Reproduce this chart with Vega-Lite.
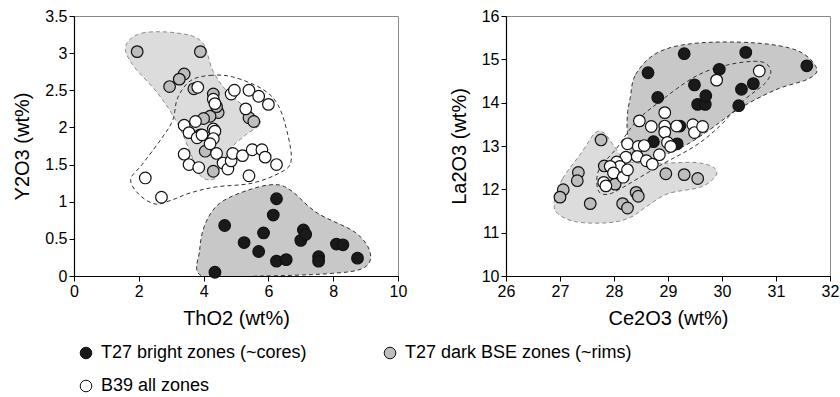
{
"$schema": "https://vega.github.io/schema/vega-lite/v6.json",
"padding": {"left": 12, "top": 7, "right": 5, "bottom": 5},
"config": {
  "font": "Liberation Sans",
  "view": {"stroke": "#8a8a8a", "strokeWidth": 1},
  "axis": {"grid": false, "domainColor": "#000", "tickColor": "#000", "labelColor": "#000", "titleColor": "#000", "labelFontSize": 16, "titleFontSize": 20, "titleFontWeight": "normal", "tickSize": 5, "labelPadding": 2, "labelOverlap": false, "labelFlush": false, "domainWidth": 1.2, "tickWidth": 1},
  "legend": {"labelFontSize": 18, "labelColor": "#000", "labelLimit": 400}
},
"datasets": {
  "pts": [
    {"p":"L","g":"T27 bright zones (~cores)","x":4.35,"y":0.05},{"p":"L","g":"T27 bright zones (~cores)","x":4.65,"y":0.68},{"p":"L","g":"T27 bright zones (~cores)","x":5.25,"y":0.45},{"p":"L","g":"T27 bright zones (~cores)","x":5.7,"y":0.33},{"p":"L","g":"T27 bright zones (~cores)","x":5.85,"y":0.58},{"p":"L","g":"T27 bright zones (~cores)","x":6.15,"y":0.82},{"p":"L","g":"T27 bright zones (~cores)","x":6.25,"y":1.04},{"p":"L","g":"T27 bright zones (~cores)","x":6.25,"y":0.2},{"p":"L","g":"T27 bright zones (~cores)","x":6.55,"y":0.22},{"p":"L","g":"T27 bright zones (~cores)","x":7.0,"y":0.48},{"p":"L","g":"T27 bright zones (~cores)","x":7.08,"y":0.62},{"p":"L","g":"T27 bright zones (~cores)","x":7.15,"y":0.56},{"p":"L","g":"T27 bright zones (~cores)","x":7.55,"y":0.26},{"p":"L","g":"T27 bright zones (~cores)","x":7.55,"y":0.2},{"p":"L","g":"T27 bright zones (~cores)","x":8.1,"y":0.43},{"p":"L","g":"T27 bright zones (~cores)","x":8.3,"y":0.42},{"p":"L","g":"T27 bright zones (~cores)","x":8.75,"y":0.24},
    {"p":"R","g":"T27 bright zones (~cores)","x":28.63,"y":14.69},{"p":"R","g":"T27 bright zones (~cores)","x":29.3,"y":15.13},{"p":"R","g":"T27 bright zones (~cores)","x":30.44,"y":15.16},{"p":"R","g":"T27 bright zones (~cores)","x":31.57,"y":14.85},{"p":"R","g":"T27 bright zones (~cores)","x":29.95,"y":14.77},{"p":"R","g":"T27 bright zones (~cores)","x":28.81,"y":14.12},{"p":"R","g":"T27 bright zones (~cores)","x":29.49,"y":14.41},{"p":"R","g":"T27 bright zones (~cores)","x":30.36,"y":14.31},{"p":"R","g":"T27 bright zones (~cores)","x":30.58,"y":14.44},{"p":"R","g":"T27 bright zones (~cores)","x":29.55,"y":13.96},{"p":"R","g":"T27 bright zones (~cores)","x":29.69,"y":13.96},{"p":"R","g":"T27 bright zones (~cores)","x":29.7,"y":14.16},{"p":"R","g":"T27 bright zones (~cores)","x":30.31,"y":13.93},{"p":"R","g":"T27 bright zones (~cores)","x":28.73,"y":13.1},{"p":"R","g":"T27 bright zones (~cores)","x":29.22,"y":13.46},{"p":"R","g":"T27 bright zones (~cores)","x":29.17,"y":13.05},
    {"p":"L","g":"T27 dark BSE zones (~rims)","x":1.95,"y":3.02},{"p":"L","g":"T27 dark BSE zones (~rims)","x":3.9,"y":3.02},{"p":"L","g":"T27 dark BSE zones (~rims)","x":3.4,"y":2.72},{"p":"L","g":"T27 dark BSE zones (~rims)","x":3.25,"y":2.65},{"p":"L","g":"T27 dark BSE zones (~rims)","x":2.95,"y":2.55},{"p":"L","g":"T27 dark BSE zones (~rims)","x":3.7,"y":2.52},{"p":"L","g":"T27 dark BSE zones (~rims)","x":4.3,"y":2.45},{"p":"L","g":"T27 dark BSE zones (~rims)","x":4.45,"y":2.2},{"p":"L","g":"T27 dark BSE zones (~rims)","x":4.2,"y":2.15},{"p":"L","g":"T27 dark BSE zones (~rims)","x":4.0,"y":2.12},{"p":"L","g":"T27 dark BSE zones (~rims)","x":4.4,"y":2.28},{"p":"L","g":"T27 dark BSE zones (~rims)","x":5.4,"y":2.13},{"p":"L","g":"T27 dark BSE zones (~rims)","x":5.55,"y":2.08},{"p":"L","g":"T27 dark BSE zones (~rims)","x":4.05,"y":1.68},{"p":"L","g":"T27 dark BSE zones (~rims)","x":4.3,"y":1.41},{"p":"L","g":"T27 dark BSE zones (~rims)","x":3.9,"y":1.9},
    {"p":"R","g":"T27 dark BSE zones (~rims)","x":27.76,"y":13.14},{"p":"R","g":"T27 dark BSE zones (~rims)","x":27.82,"y":12.54},{"p":"R","g":"T27 dark BSE zones (~rims)","x":27.34,"y":12.39},{"p":"R","g":"T27 dark BSE zones (~rims)","x":27.32,"y":12.2},{"p":"R","g":"T27 dark BSE zones (~rims)","x":27.06,"y":11.99},{"p":"R","g":"T27 dark BSE zones (~rims)","x":27.0,"y":11.82},{"p":"R","g":"T27 dark BSE zones (~rims)","x":27.56,"y":11.67},{"p":"R","g":"T27 dark BSE zones (~rims)","x":28.16,"y":11.67},{"p":"R","g":"T27 dark BSE zones (~rims)","x":28.25,"y":11.57},{"p":"R","g":"T27 dark BSE zones (~rims)","x":28.41,"y":11.93},{"p":"R","g":"T27 dark BSE zones (~rims)","x":28.45,"y":11.84},{"p":"R","g":"T27 dark BSE zones (~rims)","x":28.96,"y":12.36},{"p":"R","g":"T27 dark BSE zones (~rims)","x":29.3,"y":12.34},{"p":"R","g":"T27 dark BSE zones (~rims)","x":29.55,"y":12.25},{"p":"R","g":"T27 dark BSE zones (~rims)","x":28.02,"y":12.12},{"p":"R","g":"T27 dark BSE zones (~rims)","x":28.2,"y":12.4},
    {"p":"L","g":"B39 all zones","x":2.2,"y":1.32},{"p":"L","g":"B39 all zones","x":2.7,"y":1.06},{"p":"L","g":"B39 all zones","x":3.82,"y":2.54},{"p":"L","g":"B39 all zones","x":3.4,"y":2.03},{"p":"L","g":"B39 all zones","x":3.75,"y":2.08},{"p":"L","g":"B39 all zones","x":3.55,"y":1.93},{"p":"L","g":"B39 all zones","x":3.8,"y":1.86},{"p":"L","g":"B39 all zones","x":3.95,"y":1.9},{"p":"L","g":"B39 all zones","x":4.3,"y":2.38},{"p":"L","g":"B39 all zones","x":4.35,"y":2.32},{"p":"L","g":"B39 all zones","x":4.3,"y":1.98},{"p":"L","g":"B39 all zones","x":4.35,"y":1.95},{"p":"L","g":"B39 all zones","x":4.3,"y":1.85},{"p":"L","g":"B39 all zones","x":4.2,"y":1.78},{"p":"L","g":"B39 all zones","x":3.4,"y":1.64},{"p":"L","g":"B39 all zones","x":3.55,"y":1.5},{"p":"L","g":"B39 all zones","x":3.85,"y":1.46},{"p":"L","g":"B39 all zones","x":4.4,"y":1.65},{"p":"L","g":"B39 all zones","x":4.6,"y":1.52},{"p":"L","g":"B39 all zones","x":4.75,"y":1.44},{"p":"L","g":"B39 all zones","x":4.85,"y":1.55},{"p":"L","g":"B39 all zones","x":4.9,"y":1.65},{"p":"L","g":"B39 all zones","x":4.85,"y":2.45},{"p":"L","g":"B39 all zones","x":4.95,"y":2.5},{"p":"L","g":"B39 all zones","x":5.3,"y":2.25},{"p":"L","g":"B39 all zones","x":5.4,"y":2.5},{"p":"L","g":"B39 all zones","x":5.7,"y":2.42},{"p":"L","g":"B39 all zones","x":6.0,"y":2.31},{"p":"L","g":"B39 all zones","x":5.2,"y":1.62},{"p":"L","g":"B39 all zones","x":5.5,"y":1.7},{"p":"L","g":"B39 all zones","x":5.8,"y":1.7},{"p":"L","g":"B39 all zones","x":5.9,"y":1.6},{"p":"L","g":"B39 all zones","x":6.25,"y":1.5},{"p":"L","g":"B39 all zones","x":5.4,"y":1.35},
    {"p":"R","g":"B39 all zones","x":30.69,"y":14.73},{"p":"R","g":"B39 all zones","x":29.9,"y":14.52},{"p":"R","g":"B39 all zones","x":28.47,"y":13.58},{"p":"R","g":"B39 all zones","x":28.69,"y":13.45},{"p":"R","g":"B39 all zones","x":28.94,"y":13.77},{"p":"R","g":"B39 all zones","x":28.94,"y":13.46},{"p":"R","g":"B39 all zones","x":28.94,"y":13.32},{"p":"R","g":"B39 all zones","x":29.16,"y":13.46},{"p":"R","g":"B39 all zones","x":29.46,"y":13.49},{"p":"R","g":"B39 all zones","x":29.49,"y":13.31},{"p":"R","g":"B39 all zones","x":29.64,"y":13.45},{"p":"R","g":"B39 all zones","x":28.99,"y":13.08},{"p":"R","g":"B39 all zones","x":29.05,"y":12.99},{"p":"R","g":"B39 all zones","x":28.25,"y":13.05},{"p":"R","g":"B39 all zones","x":28.45,"y":12.99},{"p":"R","g":"B39 all zones","x":28.56,"y":13.01},{"p":"R","g":"B39 all zones","x":28.22,"y":12.74},{"p":"R","g":"B39 all zones","x":28.43,"y":12.76},{"p":"R","g":"B39 all zones","x":28.6,"y":12.66},{"p":"R","g":"B39 all zones","x":28.71,"y":12.58},{"p":"R","g":"B39 all zones","x":28.84,"y":12.8},{"p":"R","g":"B39 all zones","x":28.05,"y":12.63},{"p":"R","g":"B39 all zones","x":28.11,"y":12.53},{"p":"R","g":"B39 all zones","x":27.93,"y":12.53},{"p":"R","g":"B39 all zones","x":27.99,"y":12.38},{"p":"R","g":"B39 all zones","x":28.17,"y":12.28},{"p":"R","g":"B39 all zones","x":28.25,"y":12.45},{"p":"R","g":"B39 all zones","x":27.81,"y":12.16},{"p":"R","g":"B39 all zones","x":27.85,"y":12.08}
  ],
  "shapes": [
    {"p":"L","s":"light","i":0,"x":1.6,"y":3.1},{"p":"L","s":"light","i":1,"x":2.1,"y":3.27},{"p":"L","s":"light","i":2,"x":3.2,"y":3.27},{"p":"L","s":"light","i":3,"x":3.95,"y":3.15},{"p":"L","s":"light","i":4,"x":4.3,"y":2.75},{"p":"L","s":"light","i":5,"x":4.8,"y":2.45},{"p":"L","s":"light","i":6,"x":5.5,"y":2.2},{"p":"L","s":"light","i":7,"x":5.75,"y":2.05},{"p":"L","s":"light","i":8,"x":5.3,"y":1.9},{"p":"L","s":"light","i":9,"x":4.8,"y":1.7},{"p":"L","s":"light","i":10,"x":4.5,"y":1.45},{"p":"L","s":"light","i":11,"x":4.3,"y":1.3},{"p":"L","s":"light","i":12,"x":3.9,"y":1.35},{"p":"L","s":"light","i":13,"x":3.6,"y":1.65},{"p":"L","s":"light","i":14,"x":3.2,"y":2.05},{"p":"L","s":"light","i":15,"x":2.6,"y":2.45},{"p":"L","s":"light","i":16,"x":1.8,"y":2.85},
    {"p":"L","s":"dark","i":0,"x":3.95,"y":0.0},{"p":"L","s":"dark","i":1,"x":3.88,"y":0.35},{"p":"L","s":"dark","i":2,"x":4.05,"y":0.7},{"p":"L","s":"dark","i":3,"x":4.5,"y":0.98},{"p":"L","s":"dark","i":4,"x":5.4,"y":1.16},{"p":"L","s":"dark","i":5,"x":6.2,"y":1.23},{"p":"L","s":"dark","i":6,"x":6.7,"y":1.15},{"p":"L","s":"dark","i":7,"x":7.5,"y":0.85},{"p":"L","s":"dark","i":8,"x":8.7,"y":0.58},{"p":"L","s":"dark","i":9,"x":9.15,"y":0.3},{"p":"L","s":"dark","i":10,"x":8.9,"y":0.1},{"p":"L","s":"dark","i":11,"x":7.8,"y":0.03},{"p":"L","s":"dark","i":12,"x":5.8,"y":0.0},
    {"p":"L","s":"white","i":0,"x":3.6,"y":2.63},{"p":"L","s":"white","i":1,"x":4.2,"y":2.7},{"p":"L","s":"white","i":2,"x":4.9,"y":2.68},{"p":"L","s":"white","i":3,"x":5.8,"y":2.52},{"p":"L","s":"white","i":4,"x":6.3,"y":2.3},{"p":"L","s":"white","i":5,"x":6.6,"y":1.9},{"p":"L","s":"white","i":6,"x":6.7,"y":1.55},{"p":"L","s":"white","i":7,"x":6.4,"y":1.4},{"p":"L","s":"white","i":8,"x":5.5,"y":1.25},{"p":"L","s":"white","i":9,"x":4.4,"y":1.2},{"p":"L","s":"white","i":10,"x":3.6,"y":1.12},{"p":"L","s":"white","i":11,"x":3.0,"y":1.02},{"p":"L","s":"white","i":12,"x":2.5,"y":0.97},{"p":"L","s":"white","i":13,"x":2.0,"y":1.1},{"p":"L","s":"white","i":14,"x":1.75,"y":1.3},{"p":"L","s":"white","i":15,"x":2.1,"y":1.5},{"p":"L","s":"white","i":16,"x":2.7,"y":1.85},{"p":"L","s":"white","i":17,"x":3.05,"y":2.1},{"p":"L","s":"white","i":18,"x":3.2,"y":2.4},
    {"p":"R","s":"dark","i":0,"x":28.3,"y":14.1},{"p":"R","s":"dark","i":1,"x":28.4,"y":14.65},{"p":"R","s":"dark","i":2,"x":28.8,"y":15.15},{"p":"R","s":"dark","i":3,"x":29.5,"y":15.37},{"p":"R","s":"dark","i":4,"x":30.6,"y":15.38},{"p":"R","s":"dark","i":5,"x":31.4,"y":15.2},{"p":"R","s":"dark","i":6,"x":31.75,"y":14.8},{"p":"R","s":"dark","i":7,"x":31.6,"y":14.55},{"p":"R","s":"dark","i":8,"x":31.0,"y":14.3},{"p":"R","s":"dark","i":9,"x":30.3,"y":13.85},{"p":"R","s":"dark","i":10,"x":29.8,"y":13.4},{"p":"R","s":"dark","i":11,"x":29.3,"y":13.0},{"p":"R","s":"dark","i":12,"x":28.8,"y":12.75},{"p":"R","s":"dark","i":13,"x":28.35,"y":12.75},{"p":"R","s":"dark","i":14,"x":28.25,"y":13.3},{"p":"R","s":"dark","i":15,"x":28.25,"y":13.75},
    {"p":"R","s":"light","i":0,"x":26.9,"y":11.75},{"p":"R","s":"light","i":1,"x":27.05,"y":12.25},{"p":"R","s":"light","i":2,"x":27.4,"y":12.85},{"p":"R","s":"light","i":3,"x":27.65,"y":13.3},{"p":"R","s":"light","i":4,"x":27.82,"y":13.3},{"p":"R","s":"light","i":5,"x":28.0,"y":13.0},{"p":"R","s":"light","i":6,"x":28.25,"y":12.65},{"p":"R","s":"light","i":7,"x":28.8,"y":12.6},{"p":"R","s":"light","i":8,"x":29.5,"y":12.62},{"p":"R","s":"light","i":9,"x":29.85,"y":12.5},{"p":"R","s":"light","i":10,"x":29.88,"y":12.3},{"p":"R","s":"light","i":11,"x":29.6,"y":12.05},{"p":"R","s":"light","i":12,"x":29.0,"y":11.9},{"p":"R","s":"light","i":13,"x":28.6,"y":11.6},{"p":"R","s":"light","i":14,"x":28.3,"y":11.35},{"p":"R","s":"light","i":15,"x":27.9,"y":11.23},{"p":"R","s":"light","i":16,"x":27.3,"y":11.25},{"p":"R","s":"light","i":17,"x":26.95,"y":11.45},
    {"p":"R","s":"white","i":0,"x":27.7,"y":12.0},{"p":"R","s":"white","i":1,"x":27.72,"y":12.45},{"p":"R","s":"white","i":2,"x":28.05,"y":12.95},{"p":"R","s":"white","i":3,"x":28.4,"y":13.55},{"p":"R","s":"white","i":4,"x":28.8,"y":13.98},{"p":"R","s":"white","i":5,"x":29.5,"y":14.6},{"p":"R","s":"white","i":6,"x":30.1,"y":14.87},{"p":"R","s":"white","i":7,"x":30.7,"y":14.95},{"p":"R","s":"white","i":8,"x":30.9,"y":14.75},{"p":"R","s":"white","i":9,"x":30.8,"y":14.45},{"p":"R","s":"white","i":10,"x":30.4,"y":14.05},{"p":"R","s":"white","i":11,"x":29.95,"y":13.45},{"p":"R","s":"white","i":12,"x":29.5,"y":13.0},{"p":"R","s":"white","i":13,"x":28.85,"y":12.55},{"p":"R","s":"white","i":14,"x":28.1,"y":12.0},{"p":"R","s":"white","i":15,"x":27.85,"y":11.88}
  ]
},
"spacing": 40,
"resolve": {"scale": {"fill": "shared"}},
"hconcat": [
  {
    "width": 324, "height": 260,
    "encoding": {
      "x": {"field": "x", "type": "quantitative", "scale": {"domain": [0, 10], "nice": false}, "axis": {"values": [0,2,4,6,8,10], "format": "d", "title": "ThO2 (wt%)", "titlePadding": 9}},
      "y": {"field": "y", "type": "quantitative", "scale": {"domain": [0, 3.5], "nice": false}, "axis": {"values": [0,0.5,1,1.5,2,2.5,3,3.5], "format": "~g", "title": "Y2O3 (wt%)", "titlePadding": 12}}
    },
    "layer": [
      {"data": {"name": "shapes"}, "transform": [{"filter": "datum.p == 'L' && datum.s == 'light'"}],
       "mark": {"type": "line", "interpolate": "cardinal-closed", "fill": "#dcdcdc", "stroke": "#8c8c8c", "strokeWidth": 1, "strokeDash": [4, 3], "clip": true},
       "encoding": {"order": {"field": "i", "type": "quantitative"}}},
      {"data": {"name": "shapes"}, "transform": [{"filter": "datum.p == 'L' && datum.s == 'dark'"}],
       "mark": {"type": "line", "interpolate": "cardinal-closed", "fill": "#c8c8c8", "stroke": "#333", "strokeWidth": 1, "strokeDash": [4, 3], "clip": true},
       "encoding": {"order": {"field": "i", "type": "quantitative"}}},
      {"data": {"name": "shapes"}, "transform": [{"filter": "datum.p == 'L' && datum.s == 'white'"}],
       "mark": {"type": "line", "interpolate": "cardinal-closed", "stroke": "#333", "strokeWidth": 1, "strokeDash": [4, 3], "clip": true},
       "encoding": {"order": {"field": "i", "type": "quantitative"}}},
      {"data": {"name": "pts"}, "transform": [{"filter": "datum.p == 'L'"}],
       "mark": {"type": "point", "shape": "circle", "filled": true, "stroke": "#111", "strokeWidth": 1.2, "size": 135, "opacity": 1},
       "encoding": {
                    "fill": {"field": "g", "type": "nominal", "scale": {"domain": ["T27 bright zones (~cores)", "T27 dark BSE zones (~rims)", "B39 all zones"], "range": ["#1a1a1a", "#bdbdbd", "#ffffff"]},
                             "legend": {"title": null, "orient": "none", "legendX": 3, "legendY": 328, "direction": "horizontal", "columns": 2, "columnPadding": 74, "rowPadding": 15, "symbolType": "circle", "symbolSize": 135, "symbolStrokeColor": "#111", "symbolStrokeWidth": 1, "labelOffset": 6}}}}
    ]
  },
  {
    "width": 324, "height": 260,
    "encoding": {
      "x": {"field": "x", "type": "quantitative", "scale": {"domain": [26, 32], "nice": false, "zero": false}, "axis": {"values": [26,27,28,29,30,31,32], "format": "d", "title": "Ce2O3 (wt%)", "titlePadding": 9}},
      "y": {"field": "y", "type": "quantitative", "scale": {"domain": [10, 16], "nice": false, "zero": false}, "axis": {"values": [10,11,12,13,14,15,16], "format": "d", "title": "La2O3 (wt%)", "titlePadding": 12}}
    },
    "layer": [
      {"data": {"name": "shapes"}, "transform": [{"filter": "datum.p == 'R' && datum.s == 'light'"}],
       "mark": {"type": "line", "interpolate": "cardinal-closed", "fill": "#dcdcdc", "stroke": "#8c8c8c", "strokeWidth": 1, "strokeDash": [4, 3], "clip": true},
       "encoding": {"order": {"field": "i", "type": "quantitative"}}},
      {"data": {"name": "shapes"}, "transform": [{"filter": "datum.p == 'R' && datum.s == 'dark'"}],
       "mark": {"type": "line", "interpolate": "cardinal-closed", "fill": "#c8c8c8", "stroke": "#333", "strokeWidth": 1, "strokeDash": [4, 3], "clip": true},
       "encoding": {"order": {"field": "i", "type": "quantitative"}}},
      {"data": {"name": "shapes"}, "transform": [{"filter": "datum.p == 'R' && datum.s == 'white'"}],
       "mark": {"type": "line", "interpolate": "cardinal-closed", "stroke": "#333", "strokeWidth": 1, "strokeDash": [4, 3], "clip": true},
       "encoding": {"order": {"field": "i", "type": "quantitative"}}},
      {"data": {"name": "pts"}, "transform": [{"filter": "datum.p == 'R'"}],
       "mark": {"type": "point", "shape": "circle", "filled": true, "stroke": "#111", "strokeWidth": 1.2, "size": 135, "opacity": 1},
       "encoding": {"fill": {"field": "g", "type": "nominal"}}}
    ]
  }
]
}
